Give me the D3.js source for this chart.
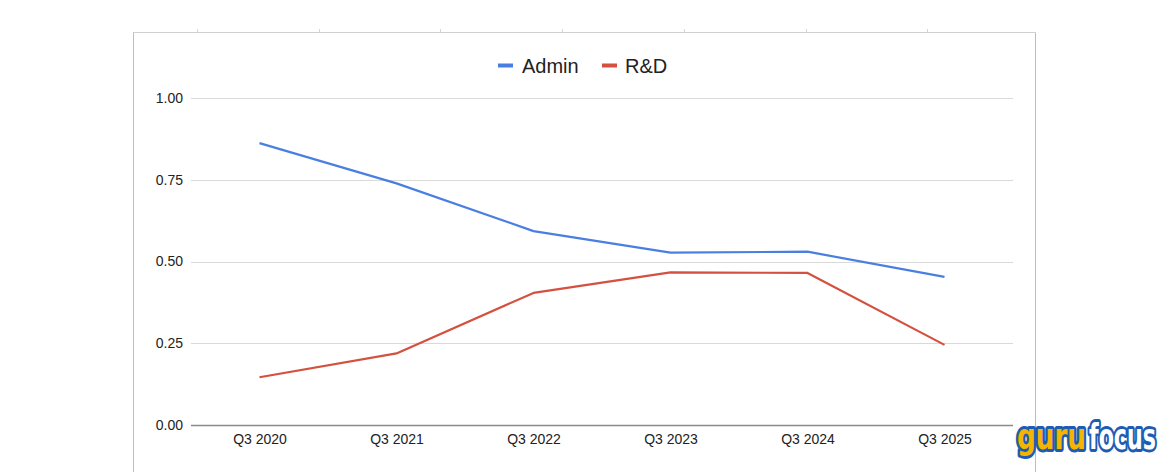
<!DOCTYPE html>
<html>
<head>
<meta charset="utf-8">
<script src="https://cdn.jsdelivr.net/npm/d3@7"></script>
<style>
  html, body { margin: 0; padding: 0; background: #fff; }
  svg { display: block; }
</style>
</head>
<body>
<svg id="chart" width="1170" height="472"></svg>
<script>
const categories = ["Q3 2020", "Q3 2021", "Q3 2022", "Q3 2023", "Q3 2024", "Q3 2025"];
const adminValues = [0.862, 0.739, 0.593, 0.527, 0.530, 0.453];
const rdValues = [0.146, 0.219, 0.404, 0.467, 0.465, 0.245];
const yTicks = [0, 0.25, 0.5, 0.75, 1.0];
const seriesNames = ["Admin", "R&D"];

const series = [
  { name: seriesNames[0], values: adminValues, color: "#4a7fe2" },
  { name: seriesNames[1], values: rdValues, color: "#d4503f" }
];

const svg = d3.select("#chart");
const font = "'Liberation Sans', Arial, sans-serif";

// sheet frame
const frame = svg.append("g");
frame.append("line").attr("x1", 133.5).attr("x2", 133.5).attr("y1", 32).attr("y2", 472).attr("stroke", "#bdbdbd");
frame.append("line").attr("x1", 1035.5).attr("x2", 1035.5).attr("y1", 32).attr("y2", 472).attr("stroke", "#bdbdbd");
frame.append("line").attr("x1", 133).attr("x2", 1036).attr("y1", 32.5).attr("y2", 32.5).attr("stroke", "#d0d0d0");
const colTicks = d3.range(197, 1000, 121.7);
frame.selectAll(".ct").data(colTicks).enter().append("line")
  .attr("x1", d => Math.round(d) + 0.5).attr("x2", d => Math.round(d) + 0.5)
  .attr("y1", 29).attr("y2", 32).attr("stroke", "#d6d6d6");

const x = d3.scalePoint().domain(categories).range([191, 1013]).padding(0.5);
const y = d3.scaleLinear().domain([0, 1]).range([425, 98]);

// gridlines
svg.append("g").selectAll("line").data(yTicks.filter(d => d > 0)).enter().append("line")
  .attr("x1", 191).attr("x2", 1013)
  .attr("y1", d => Math.round(y(d)) + 0.5).attr("y2", d => Math.round(y(d)) + 0.5)
  .attr("stroke", "#d9d9d9").attr("stroke-width", 1);

// y axis labels
const yAxis = d3.axisLeft(y).tickValues(yTicks).tickFormat(d3.format(".2f")).tickSize(0).tickPadding(8);
const yg = svg.append("g").attr("transform", "translate(191,0)").call(yAxis);
yg.select(".domain").remove();
yg.selectAll("text").attr("font-family", font).attr("font-size", 14).attr("fill", "#222");

// baseline
svg.append("line").attr("x1", 191).attr("x2", 1013)
  .attr("y1", y(0) + 0.5).attr("y2", y(0) + 0.5)
  .attr("stroke", "#8a8a8a").attr("stroke-width", 1.5);

// x axis labels
const xAxis = d3.axisBottom(x).tickSize(0).tickPadding(9);
const xg = svg.append("g").attr("transform", `translate(0,${y(0)})`).call(xAxis);
xg.select(".domain").remove();
xg.selectAll("text").attr("font-family", font).attr("font-size", 14).attr("fill", "#222");

// lines
const line = d3.line().x((d, i) => x(categories[i])).y(d => y(d));
svg.append("g").selectAll("path").data(series).enter().append("path")
  .attr("d", d => line(d.values))
  .attr("fill", "none")
  .attr("stroke", d => d.color)
  .attr("stroke-width", 2.2)
  .attr("stroke-linejoin", "round");

// legend
const legend = svg.append("g");
const legendPos = [{ sx: 498, tx: 522 }, { sx: 602, tx: 625 }];
series.forEach((s, i) => {
  legend.append("rect").attr("x", legendPos[i].sx).attr("y", 63.5).attr("width", 15).attr("height", 4).attr("fill", s.color);
  legend.append("text").attr("x", legendPos[i].tx).attr("y", 73).text(s.name)
    .attr("font-family", font).attr("font-size", 20).attr("fill", "#222");
});

// gurufocus logo
const logoFont = "'Liberation Sans Narrow', 'DejaVu Sans Condensed', Arial, sans-serif";
const logoParts = [
  { text: "focus", x: 72, len: 67, fill: "#ffffff" },
  { text: "guru", x: 0, len: 69, fill: "#f5b400" }
];
svg.append("g").attr("transform", "translate(1017,449) scale(1,1.28)")
  .selectAll("text").data(logoParts).enter().append("text")
  .attr("x", d => d.x).attr("y", 0)
  .attr("font-family", logoFont).attr("font-weight", "bold").attr("font-size", 28)
  .attr("textLength", d => d.len).attr("lengthAdjust", "spacingAndGlyphs")
  .attr("fill", d => d.fill)
  .attr("stroke", "#1e5cb3").attr("stroke-width", 4.5).attr("stroke-linejoin", "round")
  .style("paint-order", "stroke")
  .text(d => d.text);
</script>
</body>
</html>
